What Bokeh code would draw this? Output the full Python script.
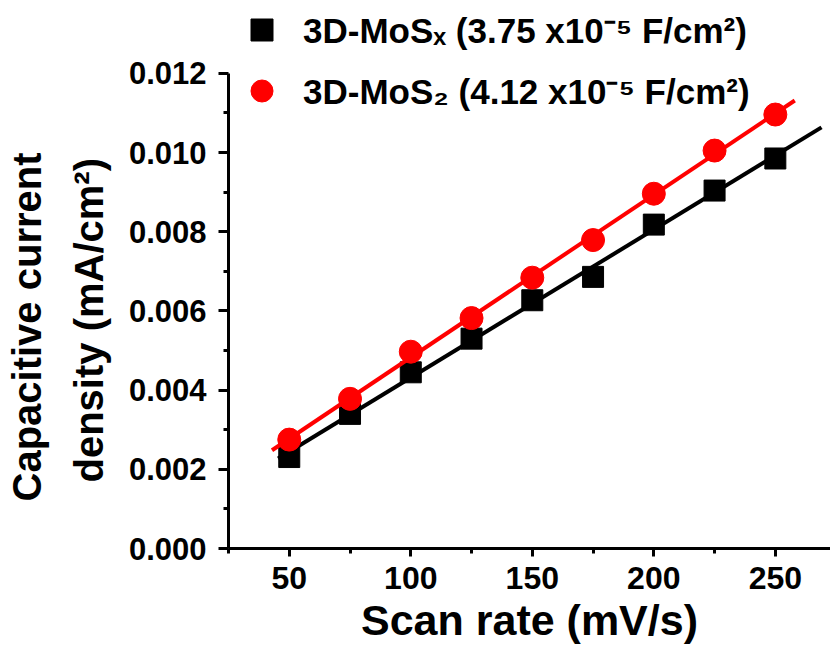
import numpy as np
from bokeh.plotting import figure
from bokeh.models import Range1d, FixedTicker, PrintfTickFormatter, Legend, LegendItem, Title
from bokeh.embed import file_html
from bokeh.resources import INLINE

# ---- data ----
scan_rate = [50, 75, 100, 125, 150, 175, 200, 225, 250]          # mV/s
mosx_current = [0.00231, 0.00340, 0.00445, 0.00530, 0.00627, 0.00686, 0.00818, 0.00904, 0.00985]
mos2_current = [0.00275, 0.00378, 0.00497, 0.00582, 0.00684, 0.00779, 0.00896, 0.01005, 0.01096]
mosx_fit_span = [45.4, 269.0]
mos2_fit_span = [42.9, 258.0]

x_major = [50, 100, 150, 200, 250]
x_minor = [25, 75, 125, 175, 225]
y_major = [0.0, 0.002, 0.004, 0.006, 0.008, 0.010, 0.012]
y_minor = [0.001, 0.003, 0.005, 0.007, 0.009, 0.011]

mosx_label = "3D-MoS\u2093 (3.75 x10\u207b\u2075 F/cm\u00b2)"
mos2_label = "3D-MoS\u2082 (4.12 x10\u207b\u2075 F/cm\u00b2)"
x_title = "Scan rate (mV/s)"
y_title_lines = ["Capacitive current", "density (mA/cm\u00b2)"]

FONT = "Liberation Sans"

# ---- linear fits ----
kx, bx = np.polyfit(scan_rate, mosx_current, 1)
k2, b2 = np.polyfit(scan_rate, mos2_current, 1)
mosx_fit_y = [kx * v + bx for v in mosx_fit_span]
mos2_fit_y = [k2 * v + b2 for v in mos2_fit_span]

# frame reaches the top edge so that the legend (above the axis top) is not clipped
H, BOTTOM, AXIS_PX = 646, 97, 476
y_end = y_major[-1] * (H - BOTTOM) / AXIS_PX

p = figure(width=830, height=H, output_backend="svg", toolbar_location=None,
           x_range=Range1d(25, 272.7), y_range=Range1d(0.0, y_end),
           min_border_left=228, min_border_right=0, min_border_top=0, min_border_bottom=BOTTOM)
p.outline_line_color = None
p.xgrid.visible = False
p.ygrid.visible = False
p.background_fill_color = "white"
p.border_fill_color = "white"

sq = p.scatter(scan_rate, mosx_current, marker="square", size=21, color="black")
p.line(mosx_fit_span, mosx_fit_y, line_width=4, color="black")
ci = p.scatter(scan_rate, mos2_current, marker="circle", size=23, color="red")
p.line(mos2_fit_span, mos2_fit_y, line_width=4, color="red")

for ax in (p.xaxis[0], p.yaxis[0]):
    ax.axis_line_width = 3
    ax.major_tick_line_width = 3
    ax.minor_tick_line_width = 3
    ax.major_tick_in = 0
    ax.minor_tick_in = 0
    ax.major_label_text_font = FONT
    ax.major_label_text_font_style = "bold"
    ax.axis_label_text_font = FONT
    ax.axis_label_text_font_style = "bold"
    ax.axis_label_text_color = "black"
    ax.major_label_text_color = "black"

xa = p.xaxis[0]
xa.ticker = FixedTicker(ticks=x_major, minor_ticks=x_minor)
xa.major_tick_out = 8
xa.minor_tick_out = 5
xa.major_label_text_font_size = "32px"
xa.major_label_standoff = 10
xa.axis_label = x_title
xa.axis_label_text_font_size = "43px"
xa.axis_label_standoff = 4

ya = p.yaxis[0]
ya.bounds = (y_major[0], y_major[-1])
ya.ticker = FixedTicker(ticks=y_major, minor_ticks=y_minor)
ya.formatter = PrintfTickFormatter(format="%.3f")
ya.major_tick_out = 10
ya.minor_tick_out = 5
ya.major_label_text_font_size = "31px"
ya.major_label_standoff = 12

# y-axis title as two stacked side titles (innermost first)
for txt, off, so in ((y_title_lines[1], 66, 29), (y_title_lines[0], 47, 3)):
    p.add_layout(Title(text=txt, align="left", offset=off, standoff=so,
                       text_font=FONT, text_font_style="bold",
                       text_font_size="40px", text_color="black"), "left")

legend = Legend(items=[LegendItem(label=mosx_label, renderers=[sq]),
                       LegendItem(label=mos2_label, renderers=[ci])],
                location=(6, 430), glyph_width=55, glyph_height=55,
                label_standoff=14, spacing=6, padding=0, margin=0,
                border_line_color=None, background_fill_alpha=0,
                label_text_font=FONT, label_text_font_style="bold",
                label_text_color="black", label_text_font_size="35px")
p.add_layout(legend)

open("out.html", "w").write(file_html(p, INLINE))
